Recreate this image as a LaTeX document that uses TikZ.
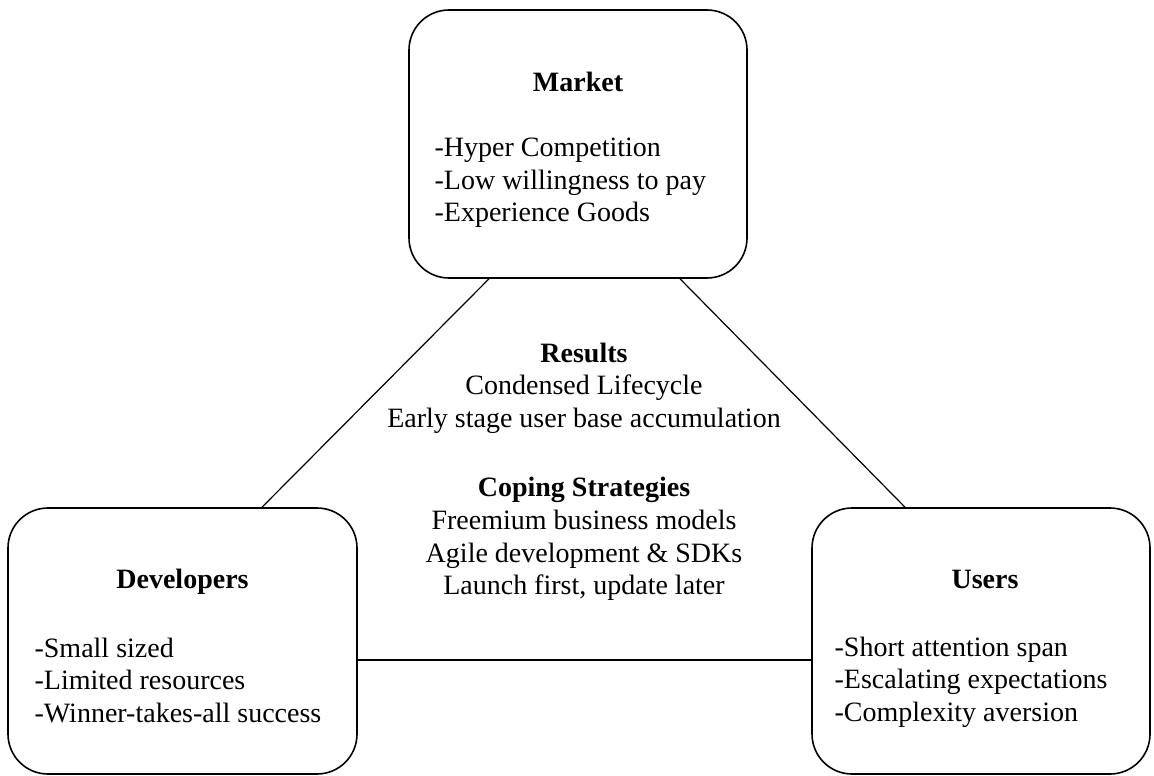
\documentclass[tikz,border=0pt]{standalone}
\usepackage{fontspec}
\setmainfont{Liberation Serif}
\usepackage{tikz}
\usetikzlibrary{positioning}

\begin{document}
\begin{tikzpicture}[x=0.5pt, y=-0.5pt, auto,
    box/.style={draw, rectangle, rounded corners=20pt, line width=0.8pt, minimum height=133pt},
    heading/.style={font=\fontsize{14}{16.3}\selectfont\bfseries, inner sep=0pt},
    items/.style={font=\fontsize{14}{16.3}\selectfont, align=left, inner sep=0pt, anchor=west},
    middle/.style={font=\fontsize{14}{16.3}\selectfont, align=center, inner sep=0pt},
    link/.style={line width=0.6pt}]
    \useasboundingbox (0,0) rectangle (1154,775);

    % Boxes
    \node [box, minimum width=169pt, minimum height=134pt] (market) at (578,144) {};
    \node [box, minimum width=174.5pt] (developers) at (182.5,641) {};
    \node [box, minimum width=169pt] (users) at (981,641) {};

    % Box texts
    \node [heading] (markettitle) at ([yshift=-36.5pt]market.north) {Market};
    \node [items] (marketitems) at ([xshift=13pt, yshift=-86.8pt]market.north west)
        {-Hyper Competition\\-Low willingness to pay\\-Experience Goods};

    \node [heading] (devtitle) at ([yshift=-37.5pt]developers.north) {Developers};
    \node [items] (devitems) at ([xshift=13.5pt, yshift=-86.5pt]developers.north west)
        {-Small sized\\-Limited resources\\-Winner-takes-all success};

    \node [heading, xshift=2pt] (usertitle) at ([yshift=-36pt]users.north) {Users};
    \node [items] (useritems) at ([xshift=11.5pt, yshift=-87.5pt]users.north west)
        {-Short attention span\\-Escalating expectations\\-Complexity aversion};

    % Centre
    \node [middle] (results) at (584,388)
        {\textbf{Results}\\Condensed Lifecycle\\Early stage user base accumulation};
    \node [middle] (coping) at (584,539)
        {\textbf{Coping Strategies}\\Freemium business models\\Agile development \& SDKs\\Launch first, update later};

    % Lines
    \draw [link] ([xshift=-44.5pt]market.south) -- ([xshift=39.75pt]developers.north);
    \draw [link] ([xshift=51pt]market.south) -- ([xshift=-38pt]users.north);
    \draw [link] ([yshift=-9.5pt]developers.east) -- ([yshift=-9.5pt]users.west);
\end{tikzpicture}
\end{document}
